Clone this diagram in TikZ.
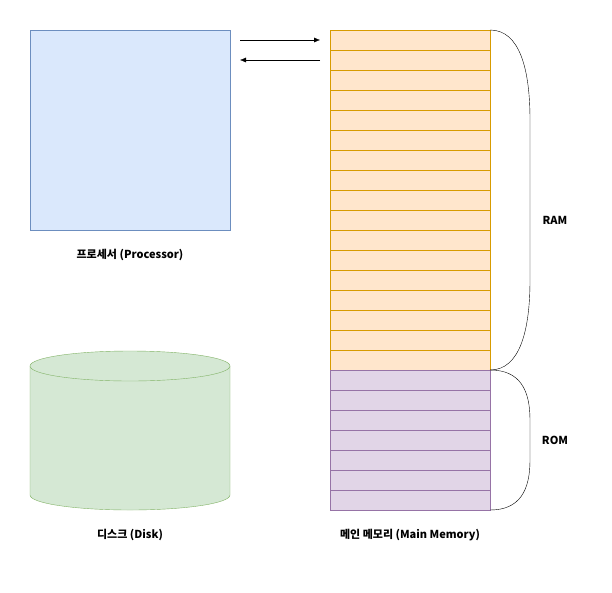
\documentclass[tikz,border=0pt]{standalone}
\usepackage{fontspec}
\setmainfont{Noto Sans CJK KR}
\usetikzlibrary{arrows.meta}
\definecolor{procfill}{HTML}{DAE8FC}
\definecolor{procdraw}{HTML}{6C8EBF}
\definecolor{ramfill}{HTML}{FFE6CC}
\definecolor{ramdraw}{HTML}{D79B00}
\definecolor{romfill}{HTML}{E1D5E7}
\definecolor{romdraw}{HTML}{9673A6}
\definecolor{diskfill}{HTML}{D5E8D4}
\definecolor{diskdraw}{HTML}{82B366}
\begin{document}
\begin{tikzpicture}[x=1pt,y=-1pt]
		\tikzstyle{proc_block} = [draw=procdraw, fill=procfill, rectangle, minimum width = 200, minimum height = 200, inner sep=0];
		\tikzstyle{ram_cell} = [draw=ramdraw, fill=ramfill, rectangle, minimum width = 160, minimum height = 20, inner sep=0];
		\tikzstyle{rom_cell} = [draw=romdraw, fill=romfill, rectangle, minimum width = 160, minimum height = 20, inner sep=0];
		\tikzstyle{label_text} = [font=\bfseries\fontsize{11}{13}\selectfont];
		\tikzstyle{disk_style} = [draw=diskdraw, fill=diskfill];

		\useasboundingbox (0,0) rectangle (612,592);
		\fill[white] (0,0) rectangle (612,592);

		\node[proc_block] (proc) at (130,130) {};
		\node[label_text] (proclabel) at (130,255) {프로세서 (Processor)};

		\foreach \i in {0,...,16}{%
			\node[ram_cell] (ram\i) at (410,40+20*\i) {};
		}
		\foreach \i in {0,...,6}{%
			\node[rom_cell] (rom\i) at (410,380+20*\i) {};
		}
		\node[label_text] (memlabel) at (410,535) {메인 메모리 (Main Memory)};

		\coordinate (cpuout) at (240,40);
		\coordinate (cpuin) at (240,60);
		\coordinate (memin) at (320,40);
		\coordinate (memout) at (320,60);
		\draw[-{Latex[length=6,width=5]}] (cpuout) -- (memin);
		\draw[-{Latex[length=6,width=5]}] (memout) -- (cpuin);

		% disk
		\draw[disk_style] (30,366) -- (30,495) arc[start angle=180, end angle=0, x radius=100, y radius=15] -- (230,366);
		\draw[disk_style] (130,366) ellipse[x radius=100, y radius=15];
		\node[label_text] (disklabel) at (130,535) {디스크 (Disk)};

		% braces
		\draw (490,30) .. controls (520,30) and (530,70) .. (530,120) -- (530,280)
		.. controls (530,330) and (520,370) .. (490,370);
		\draw (490,370) .. controls (520,370) and (530,390) .. (530,420) -- (530,460)
		.. controls (530,490) and (520,510) .. (490,510);
		\node[label_text] (ramlabel) at (555,220) {RAM};
		\node[label_text] (romlabel) at (555,440) {ROM};
\end{tikzpicture}
\end{document}
